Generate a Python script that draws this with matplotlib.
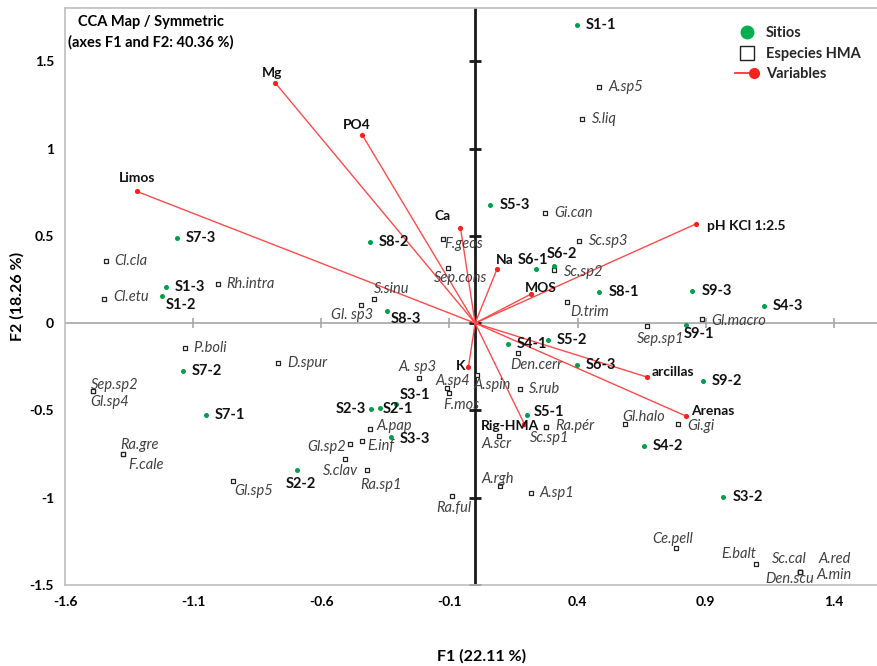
import matplotlib
matplotlib.use("Agg")
import matplotlib.pyplot as plt
from matplotlib.lines import Line2D
from matplotlib.legend_handler import HandlerBase

plt.rcParams['font.family'] = ['Lato', 'DejaVu Sans']

# sites (green points)
site_names = ["S1-1", "S1-2", "S1-3", "S2-1", "S2-2", "S2-3", "S3-1", "S3-2", "S3-3",
              "S4-1", "S4-2", "S4-3", "S5-1", "S5-2", "S5-3", "S6-1", "S6-2", "S6-3",
              "S7-1", "S7-2", "S7-3", "S8-1", "S8-2", "S8-3", "S9-1", "S9-2", "S9-3"]
site_f1 = [0.397, -1.220, -1.206, -0.371, -0.696, -0.406, -0.309, 0.969, -0.327,
           0.129, 0.659, 1.126, 0.202, 0.284, 0.060, 0.238, 0.309, 0.397,
           -1.051, -1.140, -1.163, 0.485, -0.410, -0.345, 0.822, 0.888, 0.848]
site_f2 = [1.710, 0.155, 0.208, -0.485, -0.844, -0.494, -0.466, -0.997, -0.651,
           -0.120, -0.703, 0.097, -0.525, -0.097, 0.674, 0.311, 0.328, -0.241,
           -0.527, -0.275, 0.487, 0.179, 0.462, 0.070, -0.013, -0.332, 0.185]

# AMF species (open squares)
species_names = ["A.sp5", "S.liq", "Gi.can", "Sc.sp3", "F.geos", "Sep.cons", "Sc.sp2",
                 "D.trim", "Gl.macro", "Sep.sp1", "Cl.cla", "Cl.etu", "Rh.intra",
                 "Gl. sp3", "S.sinu", "P.boli", "D.spur", "Sep.sp2", "Gl.sp4", "Ra.gre",
                 "F.cale", "Gl.sp5", "A. sp3", "A.pap", "Gl.sp2", "E.inf", "S.clav",
                 "Ra.sp1", "A.sp4", "F.mos", "A.spin", "S.rub", "Den.cerr", "Ra.pér",
                 "Sc.sp1", "A.scr", "A.rgh", "A.sp1", "Ra.ful", "Gl.halo", "Gi.gi",
                 "Ce.pell", "E.balt", "Sc.cal", "A.red", "Den.scu", "A.min"]
species_f1 = [0.484, 0.419, 0.272, 0.407, -0.126, -0.104, 0.307,
              0.359, 0.887, 0.670, -1.441, -1.449, -1.005,
              -0.447, -0.393, -1.133, -0.769, -1.492, -1.492, -1.375,
              -1.375, -0.943, -0.218, -0.410, -0.488, -0.440, -0.508,
              -0.420, -0.111, -0.101, 0.008, 0.174, 0.167, 0.276,
              0.276, 0.094, 0.098, 0.217, -0.092, 0.585, 0.793,
              0.782, 1.095, 1.266, 1.266, 1.266, 1.266]
species_f2 = [1.350, 1.170, 0.632, 0.471, 0.483, 0.317, 0.304,
              0.120, 0.023, -0.017, 0.357, 0.137, 0.225,
              0.105, 0.137, -0.143, -0.229, -0.389, -0.389, -0.752,
              -0.752, -0.905, -0.313, -0.607, -0.693, -0.678, -0.779,
              -0.844, -0.374, -0.402, -0.298, -0.376, -0.170, -0.596,
              -0.596, -0.645, -0.932, -0.974, -0.989, -0.580, -0.575,
              -1.287, -1.382, -1.428, -1.428, -1.428, -1.428]

# environmental variables (red vectors)
var_names = ["Mg", "PO4", "Limos", "Ca", "Na", "MOS", "pH KCl 1:2.5", "K",
             "arcillas", "Arenas", "Rig-HMA"]
var_f1 = [-0.779, -0.440, -1.319, -0.057, 0.086, 0.220, 0.860, -0.026, 0.671, 0.821, 0.192]
var_f2 = [1.375, 1.077, 0.754, 0.546, 0.311, 0.168, 0.567, -0.252, -0.309, -0.531, -0.577]

xticks = [-1.6, -1.1, -0.6, -0.1, 0.4, 0.9, 1.4]
yticks = [-1.5, -1, -0.5, 0, 0.5, 1, 1.5]

# label offsets in pixels: (dx, dy, ha)
site_off = {"S1-2": (3, -9, "left"), "S8-3": (4, -8, "left"), "S6-1": (-3, 9, "center"),
            "S6-2": (8, 12, "center"), "S9-1": (-2, -9, "left"), "S5-1": (7, 3, "left"),
            "S2-2": (4, -14, "center"), "S2-3": (-5, 0, "right"), "S2-1": (3, -1, "left"),
            "S3-1": (4, 9, "left"), "S3-3": (8, -2, "left")}
species_off = {"F.geos": (1, -5, "left"), "Sep.cons": (12, -10, "center"),
               "Sc.sp2": (10, -2, "left"), "D.trim": (3, -10, "left"),
               "Gl.macro": (9, -2, "left"), "Sep.sp1": (14, -13, "center"),
               "Cl.etu": (10, 2, "left"), "Gl. sp3": (-8, -10, "center"),
               "S.sinu": (17, 10, "center"), "Sep.sp2": (-2, 6, "left"),
               "Gl.sp4": (-2, -11, "left"), "Ra.gre": (-2, 9, "left"),
               "F.cale": (6, -11, "left"), "Gl.sp5": (1, -10, "left"),
               "A. sp3": (-2, 11, "center"), "A.pap": (6, 3, "left"),
               "Gl.sp2": (-4, -3, "right"), "E.inf": (5, -5, "left"),
               "S.clav": (-4, -12, "center"), "Ra.sp1": (14, -15, "center"),
               "A.sp4": (6, 7, "center"), "F.mos": (12, -12, "center"),
               "A.spin": (15, -10, "center"), "Den.cerr": (18, -12, "center"),
               "Ra.pér": (9, 1, "left"), "Sc.sp1": (4, -11, "center"),
               "A.scr": (-3, -8, "center"),
               "A.rgh": (-3, 7, "center"), "Ra.ful": (2, -12, "center"),
               "Gl.halo": (19, 7, "center"), "Gi.gi": (9, -2, "left"),
               "Ce.pell": (-3, 9, "center"), "E.balt": (-17, 10, "center"),
               "Sc.cal": (-10, 13, "center"), "A.red": (35, 13, "center"),
               "Den.scu": (-10, -7, "center"), "A.min": (35, -3, "center")}
var_off = {"Mg": (-3, 10, "center"), "PO4": (-6, 10, "center"), "Limos": (0, 13, "center"),
           "Ca": (-18, 12, "center"), "Na": (8, 9, "center"), "MOS": (9, 6, "center"),
           "pH KCl 1:2.5": (11, -2, "left"), "K": (-3, 1, "right"),
           "arcillas": (5, 5, "left"), "Arenas": (6, 5, "left"),
           "Rig-HMA": (-14, -2, "center")}

PX = 0.72  # pixel -> point at dpi 100
green = "#00a04a"
red = "#ff2020"


class LineDotHandler(HandlerBase):
    # line with a single dot at its right end, as in the reference legend
    def create_artists(self, legend, orig_handle, xdescent, ydescent, width, height,
                       fontsize, trans):
        y = height / 2 - ydescent
        x0, x1 = -xdescent, width - xdescent
        line = Line2D([x0, x1 - 3], [y, y], color=red, lw=1.2, transform=trans)
        dot = Line2D([x1 - 3], [y], ls="none", marker="o", ms=7, color=red, transform=trans)
        return [line, dot]


fig = plt.figure(figsize=(8.77, 6.66), dpi=100)
ax = fig.add_axes([65 / 877, 81 / 666, 812 / 877, 577 / 666])
ax.set_xlim(-1.6, 1.568)
ax.set_ylim(-1.5, 1.805)

for s in ["left", "top", "bottom"]:
    ax.spines[s].set_color("#bfbfbf")
    ax.spines[s].set_linewidth(1.2)
ax.spines["right"].set_visible(False)
ax.set_xticks(xticks)
ax.set_yticks(yticks)
ax.set_xticklabels([f"{v:g}" for v in xticks], fontweight="bold", fontsize=10)
ax.set_yticklabels([f"{v:g}" for v in yticks], fontweight="bold", fontsize=10)
ax.tick_params(length=0, pad=8)

# zero lines with their own tick marks
ax.axhline(0, color="#a6a6a6", lw=1.2, zorder=1)
ax.plot(xticks[1:], [0] * (len(xticks) - 1), ls="none", marker="|", ms=6.5, mew=1.2,
        color="#a6a6a6", zorder=1)
ax.axvline(0, color="#1a1a1a", lw=2, zorder=2)
ax.plot([0] * len(yticks), yticks, ls="none", marker="_", ms=8, mew=2,
        color="#1a1a1a", zorder=2)

# variables
for n, x, y in zip(var_names, var_f1, var_f2):
    ax.plot([0, x], [0, y], color="#ff4a4a", lw=1, zorder=3)
ax.scatter(var_f1, var_f2, s=14, color=red, zorder=4, linewidths=0)
for n, x, y in zip(var_names, var_f1, var_f2):
    dx, dy, ha = var_off[n]
    ax.annotate(n, (x, y), xytext=(dx * PX, dy * PX), textcoords="offset points",
                ha=ha, va="center", fontsize=10, fontweight="bold", color="#111111", zorder=6)

# species
ax.scatter(species_f1, species_f2, s=12, marker="s", facecolors="white",
           edgecolors="#222222", linewidths=0.9, zorder=5)
for n, x, y in zip(species_names, species_f1, species_f2):
    dx, dy, ha = species_off.get(n, (9, 0, "left"))
    ax.annotate(n, (x, y), xytext=(dx * PX, dy * PX), textcoords="offset points",
                ha=ha, va="center", fontsize=10.5, fontstyle="italic", color="#404040", zorder=6)

# sites
ax.scatter(site_f1, site_f2, s=13, color=green, zorder=5, linewidths=0)
for n, x, y in zip(site_names, site_f1, site_f2):
    dx, dy, ha = site_off.get(n, (9, 0, "left"))
    ax.annotate(n, (x, y), xytext=(dx * PX, dy * PX), textcoords="offset points",
                ha=ha, va="center", fontsize=10.5, fontweight="bold", color="#111111", zorder=6)

ax.text((151 - 65) / 812, 1 - 7 / 577, "CCA Map / Symmetric\n(axes F1 and F2: 40.36 %)",
        transform=ax.transAxes, ha="center", va="top", fontsize=10.5, fontweight="bold",
        linespacing=1.55)

ax.set_xlabel("F1 (22.11 %)", fontsize=11.5, fontweight="bold")
ax.set_ylabel("F2 (18.26 %)", fontsize=11.5, fontweight="bold")
ax.xaxis.set_label_coords((482 - 65) / 812, -(649 - 585) / 577)
ax.yaxis.set_label_coords((25 - 65) / 812, 0.5)

handles = [Line2D([], [], ls="none", marker="o", ms=9, color="#00b050"),
           Line2D([], [], ls="none", marker="s", ms=10, mfc="white", mec="#222222", mew=1),
           Line2D([], [], color=red)]
leg = ax.legend(handles, ["Sitios", "Especies HMA", "Variables"], loc="upper left",
                bbox_to_anchor=(722 / 877, 1 - 13 / 666), bbox_transform=fig.transFigure,
                frameon=False, handlelength=1.6, labelspacing=0.45,
                prop={"weight": "bold", "size": 10.5}, handletextpad=0.5,
                handler_map={handles[2]: LineDotHandler()})
for t in leg.get_texts():
    t.set_color("#262626")

fig.savefig("out.png", dpi=100)
